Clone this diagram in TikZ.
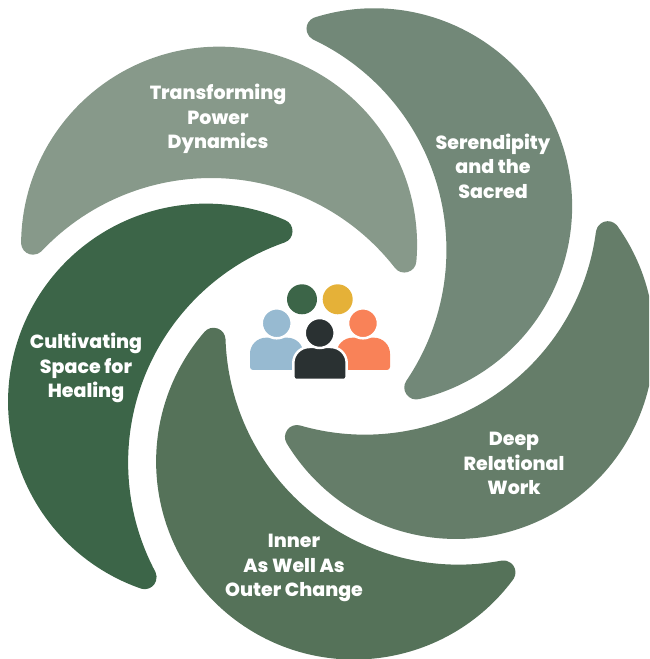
\documentclass[tikz,border=0pt]{standalone}
\usepackage{fontspec}
\setmainfont{Poppins}[BoldFont={Poppins ExtraBold}]
\definecolor{petala}{HTML}{87998A}
\definecolor{petalb}{HTML}{728878}
\definecolor{petalc}{HTML}{657D69}
\definecolor{petald}{HTML}{557259}
\definecolor{petale}{HTML}{3C6548}
\definecolor{peopleblue}{HTML}{97BAD1}
\definecolor{peopleorange}{HTML}{F98258}
\definecolor{peopleyellow}{HTML}{E5B138}
\definecolor{peopledark}{HTML}{2A3132}
\newcommand{\petalpath}{(30.6,417.8) arc[start angle=179.4, end angle=-4.9, radius=186] arc[start angle=37.9, end angle=136.6, radius=245] -- cycle}

\begin{document}
\begin{tikzpicture}[x=1pt, y=1pt]
\tikzstyle{petal}=[line width=24pt, line join=round]
\tikzstyle{label}=[text=white, align=center, font=\fontsize{19}{24.5}\selectfont\bfseries]
\tikzstyle{head}=[circle, minimum size=30pt, inner sep=0pt]
\tikzstyle{halo}=[draw=white, line width=2.5pt]

\useasboundingbox (0,0) rectangle (649,659);
\clip (0,0) rectangle (649,659);

\begin{scope}[shift={(2.5,-1.5)}]
\filldraw[petal, color=petala] \petalpath;
\filldraw[petal, color=petalb, xshift=1pt, rotate around={-72:(320,329)}] \petalpath;
\filldraw[petal, color=petalc, xshift=-1pt, rotate around={-144:(320,329)}] \petalpath;
\filldraw[petal, color=petald, xshift=-1pt, yshift=1pt, rotate around={-216:(320,329)}] \petalpath;
\filldraw[petal, color=petale, xshift=-1pt, rotate around={71.3:(320,329)}] \petalpath;
\end{scope}

\node[label] (Transforming) at (218,540) {Transforming\\Power\\Dynamics};
\node[label] (Serendipity) at (493,493) {Serendipity\\and the\\Sacred};
\node[label] (Deep) at (514,195.5) {Deep\\Relational\\Work};
\node[label] (Inner) at (294,91) {Inner\\As Well As\\Outer Change};
\node[label] (Cultivating) at (86,291) {Cultivating\\Space for\\Healing};

\node[head, fill=petale] (HeadGreen) at (302,359.7) {};
\node[head, fill=peopleyellow] (HeadYellow) at (337.7,359.7) {};

\fill[peopleblue] (250,289) [rounded corners=16pt] -- (250,321.3) -- (303.4,321.3) [rounded corners=3pt] -- (303.4,289) -- cycle;
\fill[peopleorange] (336.5,289) [rounded corners=16pt] -- (336.5,321.3) -- (390,321.3) [rounded corners=3pt] -- (390,289) -- cycle;
\node[head, fill=peopleblue, halo] (HeadBlue) at (276.7,335.7) {};
\node[head, fill=peopleorange, halo] (HeadOrange) at (363,335.7) {};

\filldraw[peopledark, halo] (293.3,279) [rounded corners=16pt] -- (293.3,312) -- (346.7,312) [rounded corners=3pt] -- (346.7,279) -- cycle;
\node[head, fill=peopledark, halo] (HeadDark) at (319.7,326) {};
\end{tikzpicture}
\end{document}
